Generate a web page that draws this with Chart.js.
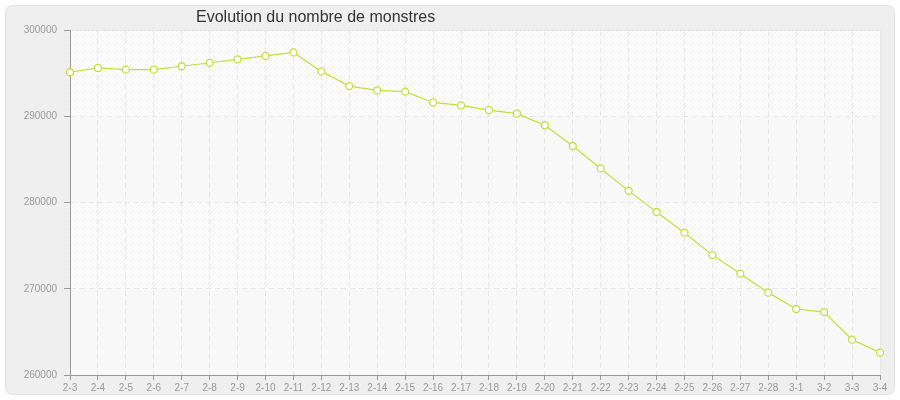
<!DOCTYPE html>
<html>
<head>
<meta charset="utf-8">
<script src="https://cdn.jsdelivr.net/npm/chart.js@4/dist/chart.umd.min.js"></script>
<style>
  html, body { margin: 0; padding: 0; background: #ffffff; }
  #wrap { position: relative; width: 900px; height: 400px; }
</style>
</head>
<body>
<div id="wrap"><canvas id="c" width="900" height="400"></canvas></div>
<script>
const chartTitle = "Evolution du nombre de monstres";
const categories = ["2-3","2-4","2-5","2-6","2-7","2-8","2-9","2-10","2-11","2-12","2-13","2-14","2-15","2-16","2-17","2-18","2-19","2-20","2-21","2-22","2-23","2-24","2-25","2-26","2-27","2-28","3-1","3-2","3-3","3-4"];
const monsters = [295100,295600,295400,295400,295800,296200,296600,297000,297400,295200,293500,293000,292850,291600,291250,290700,290300,288950,286550,283950,281350,278900,276500,273900,271750,269550,267650,267300,264100,262600];
const yTicks = [260000,270000,280000,290000,300000];

const lineColor = "#c3de3a";

const backdrop = {
  id: "backdrop",
  beforeDraw(chart) {
    const ctx = chart.ctx;
    const a = chart.chartArea;
    ctx.save();
    // outer panel
    const x0 = 5.5, y0 = 5.5, w = 889, h = 389, r = 8;
    ctx.beginPath();
    ctx.moveTo(x0 + r, y0);
    ctx.lineTo(x0 + w - r, y0);
    ctx.quadraticCurveTo(x0 + w, y0, x0 + w, y0 + r);
    ctx.lineTo(x0 + w, y0 + h - r);
    ctx.quadraticCurveTo(x0 + w, y0 + h, x0 + w - r, y0 + h);
    ctx.lineTo(x0 + r, y0 + h);
    ctx.quadraticCurveTo(x0, y0 + h, x0, y0 + h - r);
    ctx.lineTo(x0, y0 + r);
    ctx.quadraticCurveTo(x0, y0, x0 + r, y0);
    ctx.closePath();
    ctx.fillStyle = "#efefef";
    ctx.fill();
    ctx.strokeStyle = "#e2e2e2";
    ctx.lineWidth = 1;
    ctx.stroke();

    // plot area
    ctx.fillStyle = "#ffffff";
    ctx.fillRect(a.left, a.top, a.right - a.left, a.bottom - a.top);
    ctx.save();
    ctx.beginPath();
    ctx.rect(a.left, a.top, a.right - a.left, a.bottom - a.top);
    ctx.clip();
    ctx.strokeStyle = "#f0f0f0";
    ctx.lineWidth = 1;
    const H = a.bottom - a.top;
    for (let x = a.left - H; x < a.right + 4; x += 4) {
      ctx.beginPath();
      ctx.moveTo(x, a.bottom);
      ctx.lineTo(x + H, a.top);
      ctx.stroke();
    }
    const ys = chart.scales.y;
    ctx.fillStyle = "rgba(248,248,248,0.8)";
    for (let i = 0; i < yTicks.length - 1; i += 2) {
      const yb = ys.getPixelForValue(yTicks[i]);
      const yt = ys.getPixelForValue(yTicks[i + 1]);
      ctx.fillRect(a.left, yt, a.right - a.left, yb - yt);
    }
    ctx.restore();
    ctx.strokeStyle = "#e4e4e4";
    ctx.beginPath();
    ctx.moveTo(a.left, a.top + 0.5);
    ctx.lineTo(a.right + 0.5, a.top + 0.5);
    ctx.lineTo(a.right + 0.5, a.bottom);
    ctx.stroke();

    // title
    ctx.fillStyle = "#333333";
    ctx.font = "16px 'Liberation Sans', Arial, sans-serif";
    ctx.textAlign = "left";
    ctx.textBaseline = "alphabetic";
    ctx.fillText(chartTitle, 196, 22);
    ctx.restore();
  }
};

new Chart(document.getElementById("c"), {
  type: "line",
  data: {
    labels: categories,
    datasets: [{
      label: "Monstres",
      data: monsters,
      borderColor: lineColor,
      borderWidth: 1.2,
      tension: 0,
      pointRadius: 3.5,
      pointHoverRadius: 3.5,
      pointBorderWidth: 1.3,
      pointBackgroundColor: "#ffffff",
      pointBorderColor: lineColor,
      clip: false
    }]
  },
  options: {
    responsive: false,
    animation: false,
    devicePixelRatio: 1,
    layout: { padding: { left: 0, right: 20, top: 30, bottom: 0 } },
    plugins: {
      legend: { display: false },
      title: { display: false },
      tooltip: { enabled: false }
    },
    scales: {
      x: {
        type: "category",
        offset: false,
        afterFit(scale) { scale.height = 25; },
        grid: {
          color: "#e6e6e6",
          lineWidth: 1,
          drawTicks: true,
          tickLength: 5,
          tickColor: "#999999",
          tickBorderDash: []
        },
        border: { display: true, color: "#999999", width: 1, dash: [5, 4] },
        ticks: {
          color: "#999999",
          font: { family: "'Liberation Sans', Arial, sans-serif", size: 10 },
          padding: 2,
          maxRotation: 0,
          autoSkip: false
        }
      },
      y: {
        min: 260000,
        max: 300000,
        afterFit(scale) { scale.width = 70; },
        afterBuildTicks(scale) { scale.ticks = yTicks.map(v => ({ value: v })); },
        grid: {
          color: "#e6e6e6",
          lineWidth: 1,
          drawTicks: true,
          tickLength: 6,
          tickColor: "#999999",
          tickBorderDash: []
        },
        border: { display: true, color: "#999999", width: 1, dash: [5, 4] },
        ticks: {
          color: "#999999",
          font: { family: "'Liberation Sans', Arial, sans-serif", size: 10 },
          padding: 7,
          callback: v => String(v)
        }
      }
    }
  },
  plugins: [backdrop]
});
</script>
</body>
</html>
